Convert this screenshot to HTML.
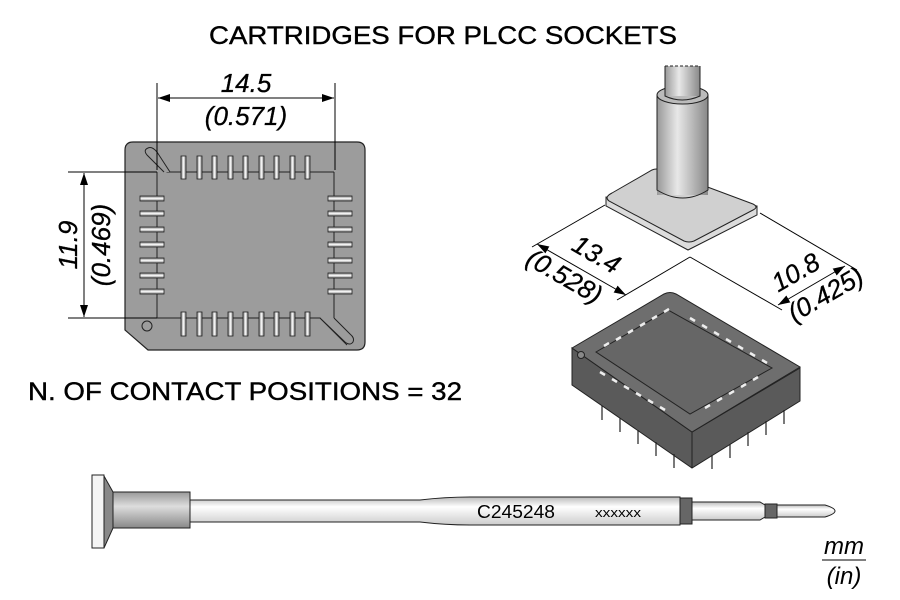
<!DOCTYPE html>
<html><head><meta charset="utf-8"><style>
html,body{margin:0;padding:0;background:#fff;}
svg{display:block;font-family:"Liberation Sans",Arial,sans-serif;}
</style></head><body>
<svg width="900" height="600" viewBox="0 0 900 600" xmlns="http://www.w3.org/2000/svg">
<defs>
<marker id="ar" markerWidth="12" markerHeight="8" refX="12" refY="4" orient="auto-start-reverse" markerUnits="userSpaceOnUse"><path d="M0,0 L12,4 L0,8 Z" fill="#000"/></marker>
<linearGradient id="cyl" x1="0" x2="1"><stop offset="0" stop-color="#999"/><stop offset="0.4" stop-color="#e8e8e8"/><stop offset="1" stop-color="#888"/></linearGradient>
<linearGradient id="shaft" x1="0" y1="0" x2="0" y2="1"><stop offset="0" stop-color="#bbb"/><stop offset="0.35" stop-color="#fff"/><stop offset="1" stop-color="#ccc"/></linearGradient>
<linearGradient id="col" x1="0" y1="0" x2="0" y2="1"><stop offset="0" stop-color="#999"/><stop offset="0.4" stop-color="#ddd"/><stop offset="1" stop-color="#888"/></linearGradient>
<linearGradient id="pinv" x1="0" x2="1"><stop offset="0" stop-color="#777"/><stop offset="0.5" stop-color="#fff"/><stop offset="1" stop-color="#777"/></linearGradient>
<linearGradient id="pinh" x1="0" y1="0" x2="0" y2="1"><stop offset="0" stop-color="#777"/><stop offset="0.5" stop-color="#fff"/><stop offset="1" stop-color="#777"/></linearGradient>
</defs>

<text x="443" y="44" font-size="25" text-anchor="middle" textLength="468" lengthAdjust="spacingAndGlyphs" stroke="#000" stroke-width="0.4">CARTRIDGES FOR PLCC SOCKETS</text>

<!-- Left footprint -->
<path d="M133,142 H357 Q365,142 365,150 V342 Q365,350 357,350 H148 L125,330 V150 Q125,142 133,142 Z" fill="#9c9c9c" stroke="#222" stroke-width="1.2"/>
<path d="M157,172 V318 M157,318 H320 L347,345 M334,318 V172 M334,172 H167 L148,155" fill="none" stroke="#222" stroke-width="1"/>
<path d="M164,172 L147,155 Q143,150 148,148 Q152,146 157,152 L170,172" fill="#9c9c9c" stroke="#222" stroke-width="1"/>
<path d="M320,318 L345,342 Q350,346 353,342 Q355,338 350,334 L334,318" fill="#9c9c9c" stroke="#222" stroke-width="1"/>
<circle cx="147" cy="326" r="5" fill="none" stroke="#222" stroke-width="1"/>
<g stroke="#222" stroke-width="0.8">
<g fill="url(#pinv)">
<rect x="181" y="156" width="5" height="23"/><rect x="197" y="156" width="5" height="23"/><rect x="212" y="156" width="5" height="23"/><rect x="228" y="156" width="5" height="23"/><rect x="243" y="156" width="5" height="23"/><rect x="259" y="156" width="5" height="23"/><rect x="274" y="156" width="5" height="23"/><rect x="290" y="156" width="5" height="23"/><rect x="305" y="156" width="5" height="23"/>
<rect x="181" y="312" width="5" height="24"/><rect x="197" y="312" width="5" height="24"/><rect x="212" y="312" width="5" height="24"/><rect x="228" y="312" width="5" height="24"/><rect x="243" y="312" width="5" height="24"/><rect x="259" y="312" width="5" height="24"/><rect x="274" y="312" width="5" height="24"/><rect x="290" y="312" width="5" height="24"/><rect x="305" y="312" width="5" height="24"/>
</g>
<g fill="url(#pinh)">
<rect x="140" y="196" width="24" height="5"/><rect x="140" y="211" width="24" height="5"/><rect x="140" y="227" width="24" height="5"/><rect x="140" y="242" width="24" height="5"/><rect x="140" y="258" width="24" height="5"/><rect x="140" y="273" width="24" height="5"/><rect x="140" y="289" width="24" height="5"/>
<rect x="328" y="196" width="24" height="5"/><rect x="328" y="211" width="24" height="5"/><rect x="328" y="227" width="24" height="5"/><rect x="328" y="242" width="24" height="5"/><rect x="328" y="258" width="24" height="5"/><rect x="328" y="273" width="24" height="5"/><rect x="328" y="289" width="24" height="5"/>
</g></g>
<!-- dims left -->
<g stroke="#000" stroke-width="1" fill="none">
<line x1="157" y1="83" x2="157" y2="170"/><line x1="335" y1="83" x2="335" y2="170"/>
<line x1="246" y1="98" x2="158" y2="98" marker-end="url(#ar)"/><line x1="246" y1="98" x2="334" y2="98" marker-end="url(#ar)"/>
<line x1="68" y1="172" x2="157" y2="172"/><line x1="68" y1="318" x2="157" y2="318"/>
<line x1="84" y1="245" x2="84" y2="173" marker-end="url(#ar)"/><line x1="84" y1="245" x2="84" y2="317" marker-end="url(#ar)"/>
</g>
<g font-size="26" font-style="italic" text-anchor="middle" stroke="#000" stroke-width="0.3">
<text x="246" y="92">14.5</text><text x="246" y="125">(0.571)</text>
<text transform="translate(77,245) rotate(-90)">11.9</text>
<text transform="translate(110,245) rotate(-90)">(0.469)</text>
</g>

<text x="28" y="400" font-size="25" textLength="434" lengthAdjust="spacingAndGlyphs" stroke="#000" stroke-width="0.4">N. OF CONTACT POSITIONS = 32</text>

<!-- right iso: dims lines -->
<g stroke="#000" stroke-width="1" fill="none">
<line x1="605" y1="205" x2="532" y2="247"/>
<line x1="537" y1="244" x2="626" y2="295" marker-start="url(#ar)" marker-end="url(#ar)"/>
<line x1="617" y1="300" x2="690" y2="257"/>
<line x1="690" y1="257" x2="782" y2="310"/>
<line x1="760" y1="213" x2="857" y2="270"/>
<line x1="778" y1="305" x2="845" y2="266" marker-start="url(#ar)" marker-end="url(#ar)"/>
</g>
<g font-size="26" font-style="italic" text-anchor="middle" stroke="#000" stroke-width="0.3">
<text transform="translate(592,262) rotate(30)">13.4</text>
<text transform="translate(560,284) rotate(30)">(0.528)</text>
<text transform="translate(800,280) rotate(-30)">10.8</text>
<text transform="translate(830,302) rotate(-30)">(0.425)</text>
</g>

<!-- tool plate -->
<path d="M606,197 L606,206 L688,250 L757,215 L757,206 Z" fill="#dcdcdc" stroke="#222" stroke-width="1"/>
<path d="M612,193 L652,170 Q656,168 662,170 L753,204 Q759,207 753,210 L694,241 Q689,243 684,241 L609,201 Q604,197 612,193 Z" fill="#d0d0d0" stroke="#222" stroke-width="1"/>
<rect x="657" y="95" width="51" height="100" fill="url(#cyl)" stroke="none"/>
<path d="M657,95 V190 Q683,206 708,190 V95" fill="none" stroke="#222" stroke-width="1"/>
<ellipse cx="682.5" cy="95" rx="25.5" ry="9" fill="#bbb" stroke="#222" stroke-width="1"/>
<rect x="665" y="66" width="35" height="30" fill="url(#cyl)"/>
<path d="M665,66 V96 Q682,104 700,96 V66" fill="none" stroke="#222" stroke-width="1"/>
<path d="M665,66 H700" stroke="#222" stroke-dasharray="3,2" stroke-width="1"/>

<!-- socket -->
<g stroke="#222" stroke-width="1">
<path d="M572,348 L572,385 L692,468 L800,401 L800,368 L692,432 Z" fill="#5a5a5a"/>
<path d="M692,432 L692,468" fill="none"/>
<path d="M572,348 L664,294 Q670,291 676,294 L800,367 L692,432 Z" fill="#6e6e6e"/>
<path d="M596,352 L668,310 L772,368 L690,414 Z" fill="#666"/>
<circle cx="581" cy="355" r="3.5" fill="#888"/>
</g>
<g stroke="#eee" stroke-width="2.5">
<path d="M604,346 l5,-3 M616,340 l5,-3 M628,333 l5,-3 M640,326 l5,-3 M652,319 l5,-3 M664,312 l5,-3"/>
<path d="M690,318 l5,3 M702,325 l5,3 M714,332 l5,3 M726,339 l5,3 M738,346 l5,3 M750,353 l5,3 M762,360 l5,3"/>
<path d="M600,372 l5,3 M612,379 l5,3 M624,386 l5,3 M636,393 l5,3 M648,400 l5,3 M660,407 l5,3"/>
<path d="M705,408 l5,-3 M717,401 l5,-3 M729,394 l5,-3 M741,387 l5,-3 M753,380 l5,-3"/>
</g>
<g stroke="#222" stroke-width="1.2">
<line x1="602" y1="406" x2="602" y2="420"/><line x1="620" y1="418" x2="620" y2="432"/><line x1="638" y1="430" x2="638" y2="444"/><line x1="656" y1="442" x2="656" y2="456"/><line x1="674" y1="454" x2="674" y2="468"/>
<line x1="712" y1="455" x2="712" y2="469"/><line x1="730" y1="444" x2="730" y2="458"/><line x1="748" y1="432" x2="748" y2="446"/><line x1="766" y1="421" x2="766" y2="435"/><line x1="784" y1="410" x2="784" y2="424"/>
</g>

<!-- bottom tool -->
<g stroke="#222" stroke-width="1">
<path d="M104,476 L113,492 V528 L104,548 Z" fill="#888"/>
<rect x="92" y="475" width="12" height="73" fill="#f4f4f4"/>
<rect x="113" y="492" width="77" height="36" fill="url(#col)"/>
<path d="M190,500 H420 Q445,497 470,497 H680 V525 H470 Q445,525 420,522 H190 Z" fill="url(#shaft)"/>
<rect x="680" y="498" width="12" height="26" fill="#666"/>
<path d="M692,502 H760 L765,505 V517 L760,520 H692 Z" fill="url(#shaft)"/>
<rect x="765" y="504" width="12" height="14" fill="#666"/>
<path d="M777,505 H825 Q835,508 835,511 Q835,514 825,517 H777 Z" fill="url(#shaft)"/>
</g>
<text x="477" y="518" font-size="18" textLength="78" lengthAdjust="spacingAndGlyphs">C245248</text>
<text x="595" y="517" font-size="13" textLength="46" lengthAdjust="spacingAndGlyphs">xxxxxx</text>
<g font-size="24" font-style="italic" text-anchor="middle">
<text x="844" y="554">mm</text><text x="844" y="584">(in)</text></g>
<line x1="822" y1="560" x2="866" y2="560" stroke="#000" stroke-width="1"/>
</svg>
</body></html>
